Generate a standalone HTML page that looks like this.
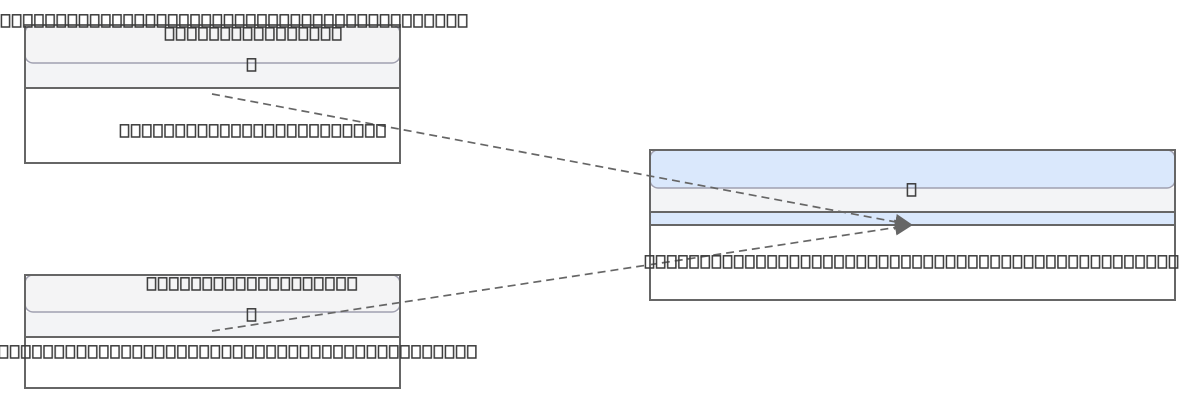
<!DOCTYPE html>
<html><head><meta charset="utf-8"><style>html,body{margin:0;padding:0;background:#fff}svg{display:block}</style></head><body>
<svg width="1200" height="413" viewBox="0 0 1200 413" xmlns="http://www.w3.org/2000/svg">
<defs>
<pattern id="t" patternUnits="userSpaceOnUse" width="11.15" height="14"><rect x="1.4" y="0.8" width="8.2" height="12.2" fill="none" stroke="#3a3a3a" stroke-width="1.5"/></pattern>
<marker id="a" markerWidth="18" markerHeight="16" refX="17" refY="8" orient="auto" markerUnits="userSpaceOnUse"><path d="M0,0 L18,8 L0,16 z" fill="#666"/></marker>
</defs>
<!-- node 1 -->
<rect x="25" y="25" width="375" height="138" fill="#fff" stroke="#666" stroke-width="2"/>
<rect x="25" y="63" width="375" height="25" fill="#f3f4f6"/>
<rect x="25" y="25" width="375" height="38" rx="8" fill="#f4f4f5" stroke="#a0a0b0" stroke-width="1.5"/>
<line x1="25" y1="88" x2="400" y2="88" stroke="#666" stroke-width="2"/>
<rect x="25" y="25" width="375" height="138" fill="none" stroke="#666" stroke-width="2"/>
<!-- node 2 -->
<rect x="25" y="275" width="375" height="113" fill="#fff" stroke="#666" stroke-width="2"/>
<rect x="25" y="312" width="375" height="25" fill="#f3f4f6"/>
<rect x="25" y="275" width="375" height="37" rx="8" fill="#f4f4f5" stroke="#a0a0b0" stroke-width="1.5"/>
<line x1="25" y1="337" x2="400" y2="337" stroke="#666" stroke-width="2"/>
<rect x="25" y="275" width="375" height="113" fill="none" stroke="#666" stroke-width="2"/>
<!-- node 3 -->
<rect x="650" y="150" width="525" height="150" fill="#fff" stroke="#666" stroke-width="2"/>
<rect x="650" y="188" width="525" height="24" fill="#f3f4f6"/>
<rect x="650" y="212" width="525" height="13" fill="#dae8fc"/>
<rect x="650" y="150" width="525" height="38" rx="8" fill="#dae8fc" stroke="#a0a0b0" stroke-width="1.5"/>
<line x1="650" y1="212" x2="1175" y2="212" stroke="#666" stroke-width="2"/>
<line x1="650" y1="225" x2="1175" y2="225" stroke="#666" stroke-width="2"/>
<rect x="650" y="150" width="525" height="150" fill="none" stroke="#666" stroke-width="2"/>
<!-- edges -->
<line x1="212" y1="94" x2="912" y2="225" stroke="#666" stroke-width="1.7" stroke-dasharray="8,5" marker-end="url(#a)"/>
<line x1="212" y1="331" x2="912" y2="225" stroke="#666" stroke-width="1.7" stroke-dasharray="8,5" marker-end="url(#a)"/>
<!-- tofu text -->
<g transform="translate(0,14)"><rect width="468" height="14" fill="url(#t)"/></g>
<g transform="translate(164,27)"><rect width="178" height="14" fill="url(#t)"/></g>
<g transform="translate(246,58)"><rect width="11" height="14" fill="url(#t)"/></g>
<g transform="translate(119,124)"><rect width="267" height="14" fill="url(#t)"/></g>
<g transform="translate(146,277)"><rect width="212" height="14" fill="url(#t)"/></g>
<g transform="translate(246,308)"><rect width="11" height="14" fill="url(#t)"/></g>
<g transform="translate(-2,345)"><rect width="479" height="14" fill="url(#t)"/></g>
<g transform="translate(906,183)"><rect width="11" height="14" fill="url(#t)"/></g>
<g transform="translate(644,255)"><rect width="535" height="14" fill="url(#t)"/></g>
</svg>
</body></html>
